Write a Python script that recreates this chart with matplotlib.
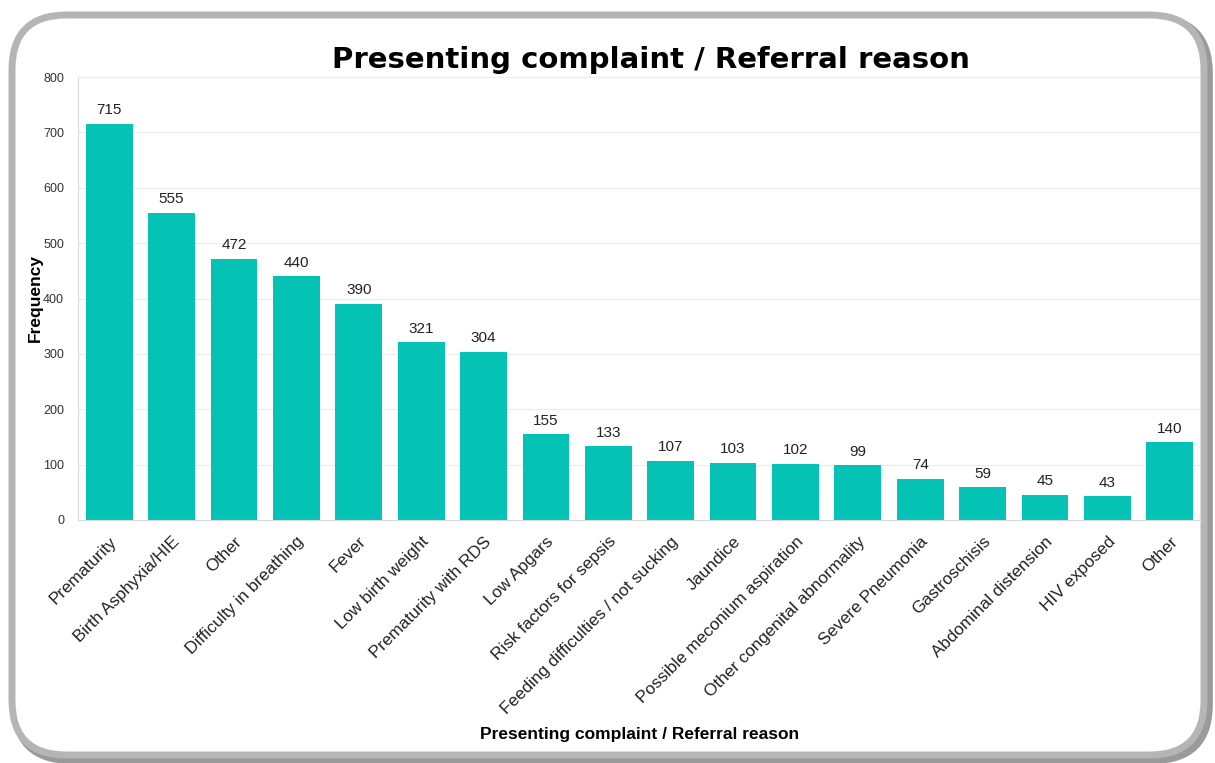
import matplotlib
matplotlib.use("Agg")
import matplotlib.pyplot as plt
from matplotlib.patches import FancyBboxPatch

categories = ["Prematurity", "Birth Asphyxia/HIE", "Other", "Difficulty in breathing", "Fever",
              "Low birth weight", "Prematurity with RDS", "Low Apgars", "Risk factors for sepsis",
              "Feeding difficulties / not sucking", "Jaundice", "Possible meconium aspiration",
              "Other congenital abnormality", "Severe Pneumonia", "Gastroschisis",
              "Abdominal distension", "HIV exposed", "Other"]
values = [715, 555, 472, 440, 390, 321, 304, 155, 133, 107, 103, 102, 99, 74, 59, 45, 43, 140]
yticks = [0, 100, 200, 300, 400, 500, 600, 700, 800]

plt.rcParams['font.family'] = ['Liberation Sans', 'DejaVu Sans']

fig = plt.figure(figsize=(12.15, 7.63), dpi=100)
W, H = 1215, 763

# rounded frame with shadow
for off, col, lw in [(4, '#9a9a9a', 7), (0, '#b5b5b5', 5)]:
    p = FancyBboxPatch(((12 + off) / W, (8 - off) / H), (1192) / W, (740) / H,
                       boxstyle="round,pad=0,rounding_size=0.045",
                       transform=fig.transFigure, facecolor='white' if off == 0 else 'none',
                       edgecolor=col, linewidth=lw, mutation_aspect=W / H, zorder=-5)
    fig.patches.append(p)

ax = fig.add_axes([78 / W, 1 - 520 / H, (1201 - 78) / W, (520 - 77) / H])
ax.set_zorder(2)
ax.set_facecolor('none')
x = list(range(len(categories)))
bars = ax.bar(x, values, width=0.75, color='#05C3B4', zorder=2)
for xi, v in zip(x, values):
    ax.text(xi, v + 12, str(v), ha='center', va='bottom', fontsize=11, color='#222222')

ax.set_xlim(-0.5, len(categories) - 0.5)
ax.set_ylim(0, 800)
ax.set_yticks(yticks)
ax.set_yticklabels([str(t) for t in yticks], fontsize=9, color='#333333')
ax.set_xticks(x)
ax.set_xticklabels(categories, rotation=45, ha='right', rotation_mode='anchor', fontsize=12.3, color='#222222')
ax.tick_params(axis='both', length=0, pad=10)
ax.tick_params(axis='x', pad=10)
ax.grid(axis='y', color='#ebebeb', linewidth=0.8, zorder=0)
for s in ['top', 'right']:
    ax.spines[s].set_visible(False)
ax.spines['left'].set_color('#d9d9d9')
ax.spines['bottom'].set_color('#d9d9d9')

ax.set_ylabel('Frequency', fontsize=12.5, fontweight='bold')
ax.yaxis.set_label_coords(-0.031, 0.5)
fig.text(640 / W, 1 - 735 / H, 'Presenting complaint / Referral reason', ha='center', va='center',
         fontsize=12.5, fontweight='bold')
fig.text(651 / W, 1 - 60 / H, 'Presenting complaint / Referral reason', ha='center', va='center',
         fontsize=21, fontweight='bold', family=['DejaVu Sans'])

fig.savefig('out.png', dpi=100)
